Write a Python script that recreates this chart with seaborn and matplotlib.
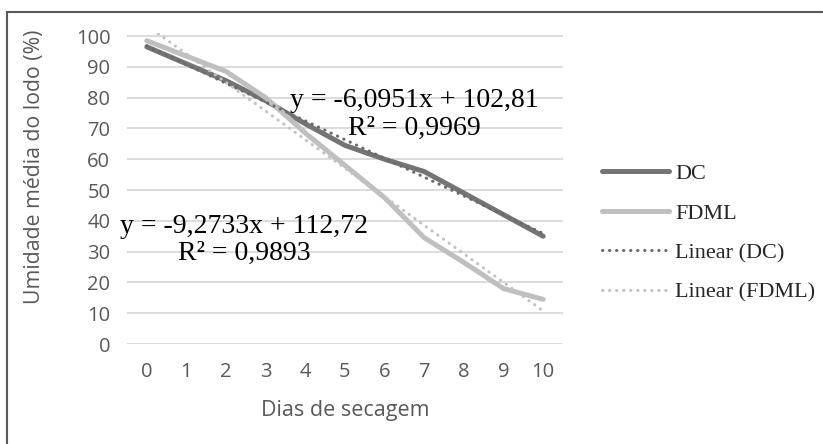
import numpy as np
import pandas as pd
import matplotlib
matplotlib.use("Agg")
import matplotlib.pyplot as plt
import seaborn as sns
from matplotlib.patches import Rectangle

# dias de secagem (categorias do eixo x)
dias = [0, 1, 2, 3, 4, 5, 6, 7, 8, 9, 10]
# umidade média do lodo (%)
umidade_dc = [96.5, 91.0, 85.5, 79.0, 71.5, 64.5, 60.0, 56.0, 49.0, 42.0, 35.0]
umidade_fdml = [98.5, 93.5, 88.5, 80.0, 68.5, 58.0, 47.5, 34.5, 26.5, 18.0, 14.5]

eq_dc = "y = -6,0951x + 102,81\nR² = 0,9969"
eq_fdml = "y = -9,2733x + 112,72\nR² = 0,9893"

df = pd.DataFrame({"dia": dias, "DC": umidade_dc, "FDML": umidade_fdml})

sns.set_theme(style="white")
plt.rcParams['font.family'] = ['Open Sans', 'DejaVu Sans']

cor_dc = "#747474"
cor_fdml = "#bfbfbf"
cinza_txt = "#595959"

fig = plt.figure(figsize=(8.23, 4.44), dpi=100)
ax = fig.add_axes([127/823, 1 - 344/444, 436/823, 311/444])

sns.lineplot(data=df, x="dia", y="DC", ax=ax, color=cor_dc, lw=3.6,
             solid_capstyle="round")
ax.lines[-1].set_label("DC")
sns.lineplot(data=df, x="dia", y="FDML", ax=ax, color=cor_fdml, lw=3.6,
             solid_capstyle="round")
ax.lines[-1].set_label("FDML")
sns.regplot(data=df, x="dia", y="DC", ax=ax, scatter=False, ci=None, truncate=True,
            line_kws=dict(color="#6a6a6a", lw=2.2, ls=(0, (0.1, 2.2)),
                          dash_capstyle="round"))
ax.lines[-1].set_label("Linear (DC)")
sns.regplot(data=df, x="dia", y="FDML", ax=ax, scatter=False, ci=None, truncate=True,
            line_kws=dict(color="#c2c2c2", lw=2.2, ls=(0, (0.1, 2.2)),
                          dash_capstyle="round"))
ax.lines[-1].set_label("Linear (FDML)")
if ax.get_legend() is not None:
    ax.get_legend().remove()

ax.set_xlim(-0.5, 10.5)
ax.set_ylim(0, 101)
ax.set_xticks(dias)
ax.set_yticks(range(0, 101, 10))
ax.grid(axis="y", color="#d9d9d9", lw=1.3)
ax.set_axisbelow(True)
for s in ax.spines.values():
    s.set_visible(False)
ax.tick_params(axis="both", length=0, labelsize=14.5, labelcolor=cinza_txt)
ax.tick_params(axis="x", pad=13)
ax.tick_params(axis="y", pad=12)
ax.set_xlabel("Dias de secagem", fontsize=15.5, color=cinza_txt, labelpad=13)
ax.set_ylabel("Umidade média do lodo (%)", fontsize=15.3, color=cinza_txt)
ax.yaxis.set_label_coords(-(127 - 45) / 436, (344 - 167) / 311)

serif = ['Liberation Serif', 'DejaVu Serif']
ax.text(6.74, 74.5, eq_dc, ha="center", va="center", fontsize=20, family=serif,
        color="black", linespacing=1.12)
ax.text(2.45, 33.8, eq_fdml, ha="center", va="center", fontsize=20, family=serif,
        color="black", linespacing=1.12)

handles, labels = ax.get_legend_handles_labels()
fig.legend(handles, labels, loc="center left", bbox_to_anchor=(602/823, 1 - 233/444),
           frameon=False, prop=dict(family=serif, size=16), handlelength=3.0,
           handletextpad=0.3, labelspacing=0.85, borderpad=0, borderaxespad=0)

fig.patches.append(Rectangle((7, -10), 830, 444 - 12 + 10, transform=None,
                             fill=False, edgecolor=cinza_txt, lw=1.5))

fig.savefig("out.png", dpi=100)
